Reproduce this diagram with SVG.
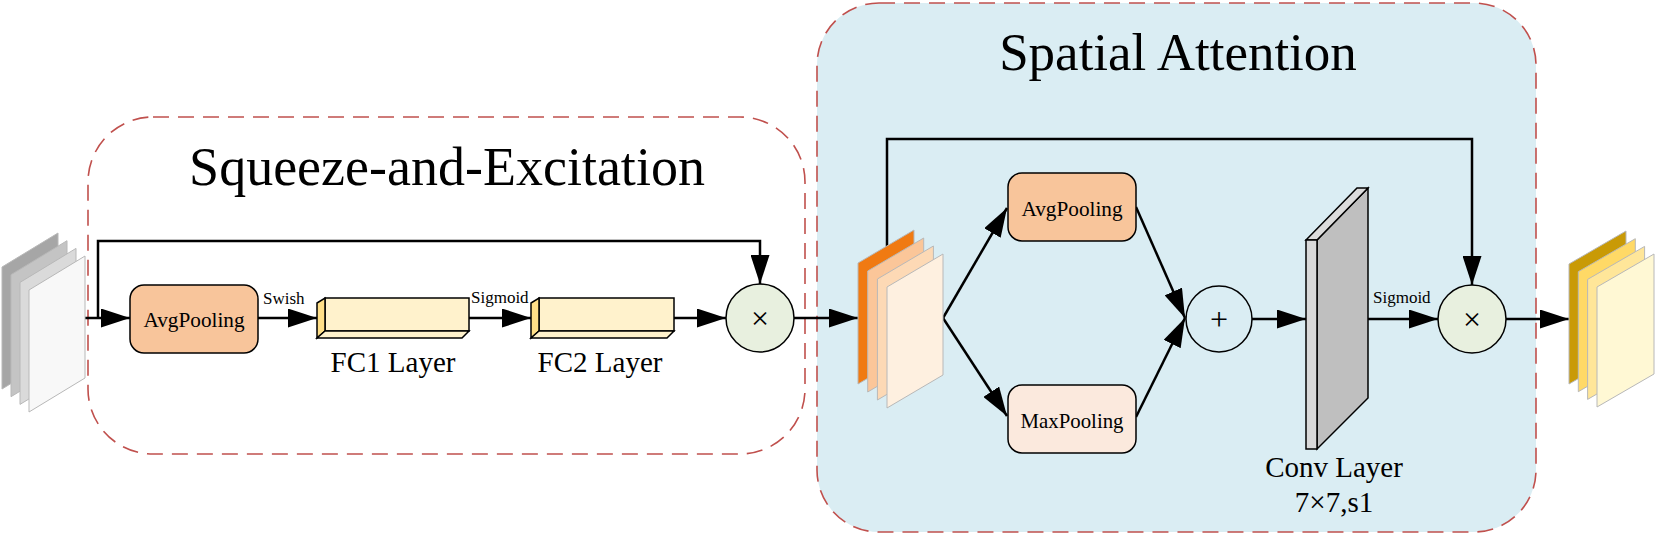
<svg xmlns="http://www.w3.org/2000/svg" width="1655" height="534" viewBox="0 0 1655 534">
<defs>
<marker id="ah" markerUnits="userSpaceOnUse" markerWidth="29" markerHeight="19" refX="29" refY="9.5" orient="auto">
<path d="M0,0 L29,9.5 L0,19 z" fill="#000"/>
</marker>
<style>
.t{font-family:"Liberation Serif","Times New Roman",serif;fill:#000}
.c{stroke:#000;stroke-width:2.5;fill:none;marker-end:url(#ah)}
.dash{stroke:#c0504d;stroke-width:1.6;stroke-dasharray:16 9}
.sh{stroke:#b8b8b8;stroke-width:1}
.box{stroke:#000;stroke-width:1.5}
</style>
</defs>
<rect width="1655" height="534" fill="#fff"/>
<g id="spatial-attention-group">
<rect x="817" y="3" width="719" height="529" rx="62" ry="62" fill="#daedf3" class="dash"/>
<text class="t" x="1178" y="70" font-size="53" text-anchor="middle">Spatial Attention</text>
</g>
<g id="se-group">
<rect x="88" y="117" width="717" height="337" rx="65" ry="65" fill="none" class="dash"/>
<text class="t" x="447" y="185" font-size="54" text-anchor="middle">Squeeze-and-Excitation</text>
</g>
<g id="connectors">
<path class="c" d="M85,318 H130"/>
<path class="c" d="M98,318 V241 H760 V284"/>
<path class="c" d="M258,318 H317"/>
<path class="c" d="M469,318 H531"/>
<path class="c" d="M674,318 H726"/>
<path class="c" d="M794,318 H858"/>
<path class="c" d="M887,250 V139 H1472 V285"/>
<path class="c" d="M943,318 L1007,208"/>
<path class="c" d="M943,318 L1007,416"/>
<path class="c" d="M1136,207 L1185,318"/>
<path class="c" d="M1136,417 L1185,318"/>
<path class="c" d="M1252,319 H1306"/>
<path class="c" d="M1368,319 H1438"/>
<path class="c" d="M1506,319 H1569"/>
<text class="t" x="263" y="304" font-size="17">Swish</text>
<text class="t" x="471" y="303" font-size="17">Sigmoid</text>
<text class="t" x="1373" y="303" font-size="17">Sigmoid</text>
</g>
<g id="input-maps">
<polygon class="sh" points="2,267 58,233 58,355 2,389" fill="#a6a6a6"/>
<polygon class="sh" points="11,274.7 67,240.7 67,362.7 11,396.7" fill="#c4c4c4"/>
<polygon class="sh" points="20,282.4 76,248.4 76,370.4 20,404.4" fill="#dadada"/>
<polygon class="sh" points="29,290 85,256 85,378 29,412" fill="#f8f8f8"/>
</g>
<g id="se-avgpooling">
<rect class="box" x="130" y="285" width="128" height="68" rx="14" ry="14" fill="#f8c59b"/>
<text class="t" x="194" y="327" font-size="22" text-anchor="middle" textLength="101" lengthAdjust="spacingAndGlyphs">AvgPooling</text>
</g>
<g id="fc1">
<polygon class="box" points="325,298 469,298 469,331 325,331" fill="#fff2cc"/>
<polygon class="box" points="317,303 325,298 325,331 317,338" fill="#ffdf88"/>
<polygon class="box" points="317,338 325,331 469,331 462,338" fill="#fff2cc"/>
<text class="t" x="393" y="372" font-size="29" text-anchor="middle">FC1 Layer</text>
</g>
<g id="fc2">
<polygon class="box" points="539,298 674,298 674,331 539,331" fill="#fff2cc"/>
<polygon class="box" points="531,303 539,298 539,331 531,338" fill="#ffdf88"/>
<polygon class="box" points="531,338 539,331 674,331 667,338" fill="#fff2cc"/>
<text class="t" x="600" y="372" font-size="29" text-anchor="middle">FC2 Layer</text>
</g>
<g id="se-multiply">
<circle class="box" cx="760" cy="318" r="34" fill="#e8f0df"/>
<text class="t" x="760" y="329" font-size="32" text-anchor="middle" font-family="Liberation Sans, sans-serif">×</text>
</g>
<g id="se-output-maps">
<polygon class="sh" points="858,263 914,230 914,351 858,384" fill="#f07a12"/>
<polygon class="sh" points="867.7,271 923.7,238 923.7,359 867.7,392" fill="#fbc699"/>
<polygon class="sh" points="877.4,279 933.4,246 933.4,367 877.4,400" fill="#fdd9b5"/>
<polygon class="sh" points="887,287 943,254 943,375 887,408" fill="#fef0e0"/>
</g>
<g id="sa-avgpooling">
<rect class="box" x="1008" y="173" width="128" height="68" rx="14" ry="14" fill="#f8c59b"/>
<text class="t" x="1072" y="216" font-size="22" text-anchor="middle" textLength="101" lengthAdjust="spacingAndGlyphs">AvgPooling</text>
</g>
<g id="sa-maxpooling">
<rect class="box" x="1008" y="385" width="128" height="68" rx="14" ry="14" fill="#fbe9dd"/>
<text class="t" x="1072" y="428" font-size="22" text-anchor="middle" textLength="103" lengthAdjust="spacingAndGlyphs">MaxPooling</text>
</g>
<g id="sa-add">
<circle class="box" cx="1219" cy="319" r="33" fill="none"/>
<text class="t" x="1219" y="330" font-size="32" text-anchor="middle" font-family="Liberation Sans, sans-serif">+</text>
</g>
<g id="conv-layer">
<polygon class="box" points="1317,240 1368,188 1368,398 1317,449" fill="#bfbfbf"/>
<polygon class="box" points="1306,240 1357,188 1368,188 1317,240" fill="#dcdcdc"/>
<rect class="box" x="1306" y="240" width="11" height="209" fill="#d9d9d9"/>
<text class="t" x="1334" y="477" font-size="29" text-anchor="middle">Conv Layer</text>
<text class="t" x="1334" y="512" font-size="29" text-anchor="middle">7×7,s1</text>
</g>
<g id="sa-multiply">
<circle class="box" cx="1472" cy="319" r="34" fill="#e8f0df"/>
<text class="t" x="1472" y="330" font-size="32" text-anchor="middle" font-family="Liberation Sans, sans-serif">×</text>
</g>
<g id="output-maps">
<polygon class="sh" points="1569,264 1626,231 1626,351 1569,384" fill="#c99a06"/>
<polygon class="sh" points="1578.3,271.7 1635.3,238.7 1635.3,358.7 1578.3,391.7" fill="#ffd966"/>
<polygon class="sh" points="1587.6,279.4 1644.6,246.4 1644.6,366.4 1587.6,399.4" fill="#ffe699"/>
<polygon class="sh" points="1597,287 1654,254 1654,374 1597,407" fill="#fff8d4"/>
</g>
</svg>
